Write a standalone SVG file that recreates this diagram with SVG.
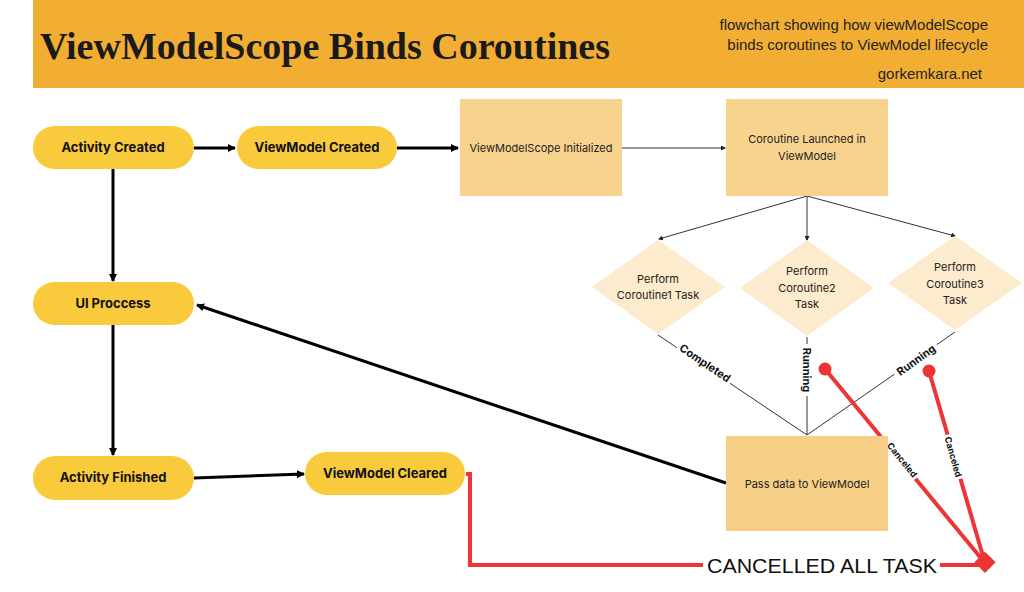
<svg xmlns="http://www.w3.org/2000/svg" width="1024" height="592" viewBox="0 0 1024 592">
<defs>
<marker id="ab" markerWidth="8" markerHeight="8" refX="7" refY="4" orient="auto" markerUnits="userSpaceOnUse"><path d="M0,0 L8,4 L0,8 z" fill="#000"/></marker>
<marker id="at" markerWidth="5" markerHeight="5" refX="4" refY="2.5" orient="auto" markerUnits="userSpaceOnUse"><path d="M0,0 L5,2.5 L0,5 z" fill="#222"/></marker>
</defs>
<style>
.pill{fill:#F9CB3C}
.box{fill:#F8D38E}
.dia{fill:#FCEBCC}
.pt{font-family:Inter,"Liberation Sans",sans-serif;font-weight:bold;font-size:13px;fill:#111;text-anchor:middle}
.bt{font-family:Inter,"Liberation Sans",sans-serif;font-size:11px;fill:#222;text-anchor:middle}
.lbl{font-family:Inter,"Liberation Sans",sans-serif;font-weight:bold;font-size:11px;fill:#111;text-anchor:middle}
.sm{font-family:Inter,"Liberation Sans",sans-serif;font-weight:bold;font-size:9px;fill:#111;text-anchor:middle}
.thick{stroke:#000;stroke-width:3;fill:none}
.thin{stroke:#333;stroke-width:1;fill:none}
.red{stroke:#EE3434;stroke-width:4;fill:none}
</style>
<rect width="1024" height="592" fill="#fff"/>
<g id="header">
<rect x="33" y="0" width="991" height="88" fill="#F2AE33"/>
<text x="40" y="59" font-family="'Liberation Serif',serif" font-weight="bold" font-size="38" fill="#1a1a1a" textLength="570" lengthAdjust="spacingAndGlyphs">ViewModelScope Binds Coroutines</text>
<text x="988" y="30" font-family="'Liberation Sans',sans-serif" font-size="15" fill="#222" text-anchor="end">flowchart showing how viewModelScope</text>
<text x="988" y="50" font-family="'Liberation Sans',sans-serif" font-size="15" fill="#222" text-anchor="end">binds coroutines to ViewModel lifecycle</text>
<text x="982" y="79" font-family="'Liberation Sans',sans-serif" font-size="15" fill="#222" text-anchor="end">gorkemkara.net</text>
</g>
<g id="connectors">
<line class="thick" x1="194" y1="148" x2="235" y2="148" marker-end="url(#ab)"/>
<line class="thick" x1="397" y1="148" x2="458" y2="148" marker-end="url(#ab)"/>
<line class="thin" x1="622" y1="148" x2="725" y2="148" marker-end="url(#at)"/>
<line class="thick" x1="113" y1="169" x2="113" y2="281" marker-end="url(#ab)"/>
<line class="thick" x1="113" y1="325" x2="113" y2="455" marker-end="url(#ab)"/>
<line class="thick" x1="194" y1="478" x2="304" y2="474" marker-end="url(#ab)"/>
<line class="thick" x1="726" y1="483" x2="197" y2="305" marker-end="url(#ab)"/>
<line class="thin" x1="807" y1="196" x2="659" y2="239" marker-end="url(#at)"/>
<line class="thin" x1="807" y1="196" x2="807" y2="240" marker-end="url(#at)"/>
<line class="thin" x1="807" y1="196" x2="955" y2="236" marker-end="url(#at)"/>
<line class="thin" x1="658" y1="335" x2="807" y2="435"/>
<line class="thin" x1="807" y1="337" x2="807" y2="435"/>
<line class="thin" x1="955" y1="332" x2="807" y2="435"/>
<polyline class="red" points="466,474 470,474 470,565 983,565"/>
<line class="red" x1="825" y1="369" x2="985" y2="563"/>
<line class="red" x1="929" y1="371" x2="985" y2="563"/>
<circle cx="825" cy="369" r="6.5" fill="#EE3434"/>
<circle cx="929" cy="371" r="6.5" fill="#EE3434"/>
<rect x="977" y="555" width="15" height="15" fill="#EE3434" transform="rotate(45 985 563)"/>
<rect x="703" y="553" width="237" height="25" fill="#fff"/>
<text x="822" y="573" font-family="'Liberation Sans',sans-serif" font-size="21" fill="#111" text-anchor="middle" textLength="230" lengthAdjust="spacingAndGlyphs">CANCELLED ALL TASK</text>
<g transform="translate(705,363) rotate(34)"><rect x="-32" y="-8" width="64" height="15" fill="#fff"/><text class="lbl" y="4">Completed</text></g>
<g transform="translate(807,370) rotate(90)"><rect x="-26" y="-8" width="52" height="15" fill="#fff"/><text class="lbl" y="4">Running</text></g>
<g transform="translate(916,360) rotate(-36)"><rect x="-26" y="-8" width="52" height="15" fill="#fff"/><text class="lbl" y="4">Running</text></g>
<g transform="translate(902,460) rotate(51)"><rect x="-23" y="-6" width="46" height="12" fill="#fff"/><text class="sm" y="3">Canceled</text></g>
<g transform="translate(953,457) rotate(74)"><rect x="-23" y="-6" width="46" height="12" fill="#fff"/><text class="sm" y="3">Canceled</text></g>
</g>
<g id="activity-created"><rect class="pill" x="33" y="126" width="161" height="43" rx="21.5"/><text class="pt" x="113" y="152">Activity Created</text></g>
<g id="viewmodel-created"><rect class="pill" x="237" y="126" width="160" height="43" rx="21.5"/><text class="pt" x="317" y="152">ViewModel Created</text></g>
<g id="vms-init"><rect class="box" x="460" y="99" width="162" height="97"/><text class="bt" x="541" y="152">ViewModelScope Initialized</text></g>
<g id="coroutine-launched"><rect class="box" x="726" y="99" width="162" height="97"/><text class="bt" x="807" y="143">Coroutine Launched in</text><text class="bt" x="807" y="160">ViewModel</text></g>
<g id="ui-process"><rect class="pill" x="33" y="282" width="161" height="43" rx="21.5"/><text class="pt" x="113" y="308">UI Proccess</text></g>
<g id="activity-finished"><rect class="pill" x="33" y="456" width="161" height="44" rx="22"/><text class="pt" x="113" y="482">Activity Finished</text></g>
<g id="viewmodel-cleared"><rect class="pill" x="305" y="452" width="160" height="43" rx="21.5"/><text class="pt" x="385" y="478">ViewModel Cleared</text></g>
<g id="coroutine1"><polygon class="dia" points="658,240 725,287 658,334 592,287"/><text class="bt" x="658" y="283">Perform</text><text class="bt" x="658" y="299">Coroutine1 Task</text></g>
<g id="coroutine2"><polygon class="dia" points="807,240 874,288 807,336 740,288"/><text class="bt" x="807" y="275">Perform</text><text class="bt" x="807" y="292">Coroutine2</text><text class="bt" x="807" y="308">Task</text></g>
<g id="coroutine3"><polygon class="dia" points="955,236 1022,283 955,330 888,283"/><text class="bt" x="955" y="271">Perform</text><text class="bt" x="955" y="288">Coroutine3</text><text class="bt" x="955" y="304">Task</text></g>
<g id="pass-data"><rect fill="#F6CE86" x="726" y="436" width="162" height="95"/><text class="bt" x="807" y="488">Pass data to ViewModel</text></g>
</svg>
